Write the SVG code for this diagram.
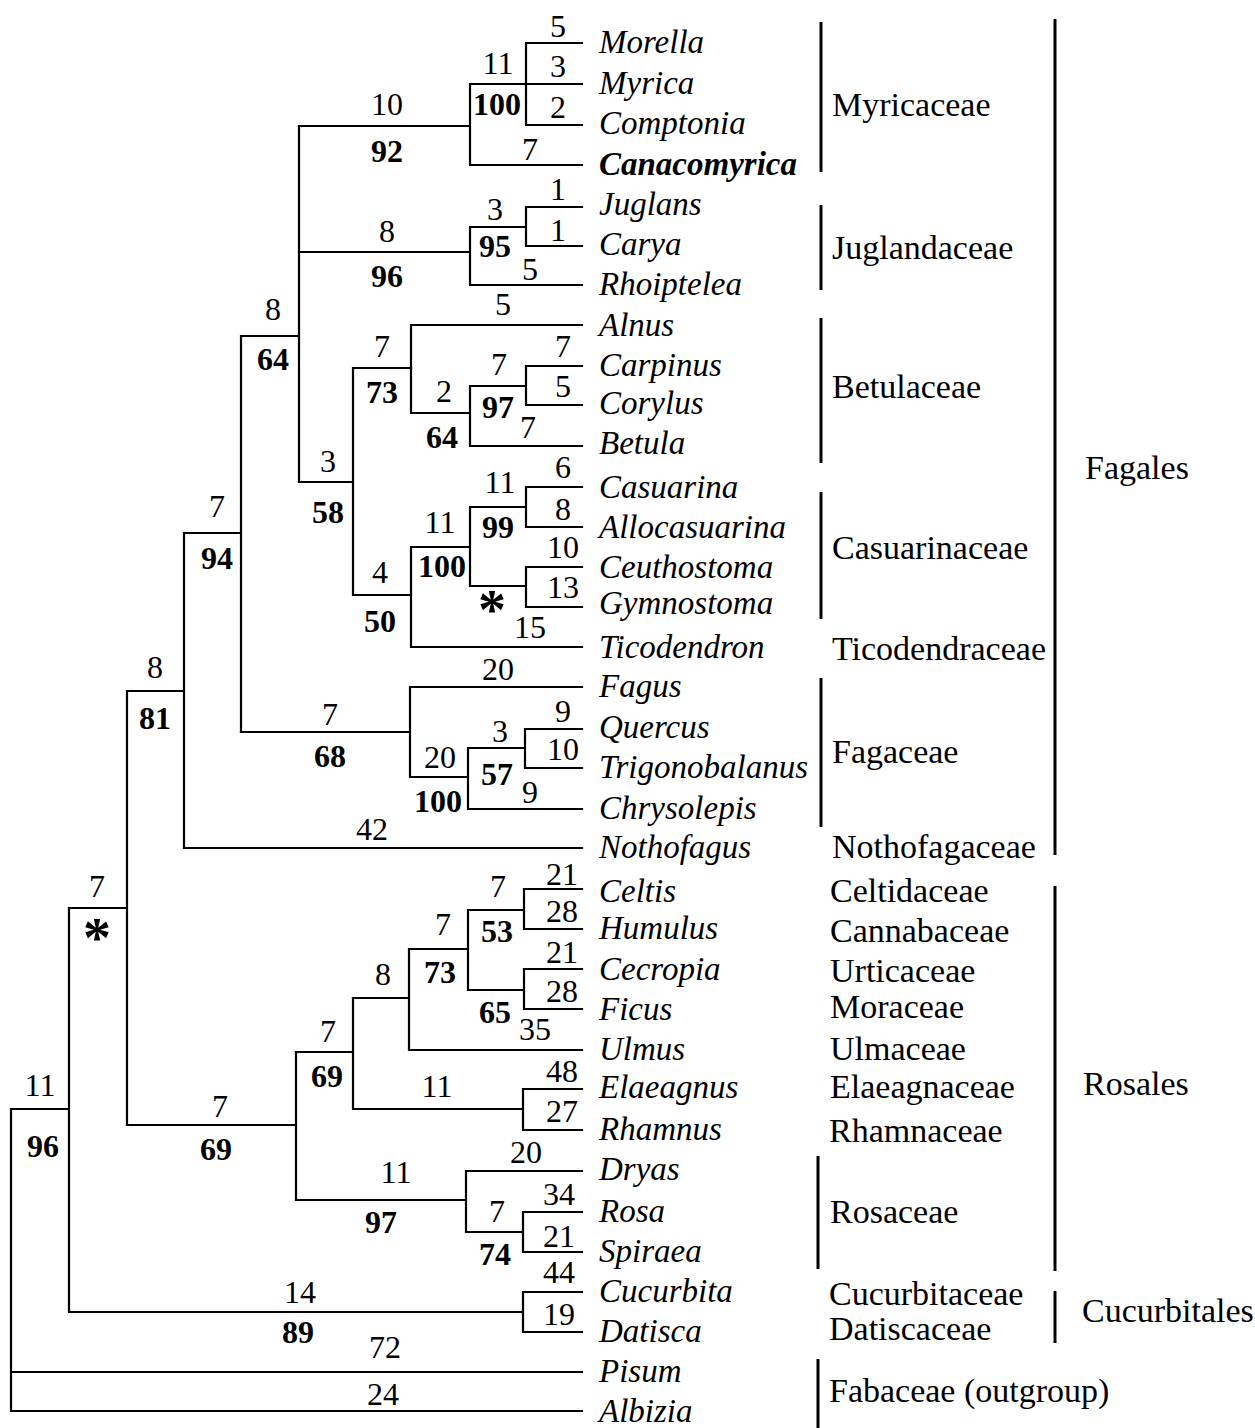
<svg xmlns="http://www.w3.org/2000/svg" width="1255" height="1428" viewBox="0 0 1255 1428">
<style>
text{font-family:"Liberation Serif","Times New Roman",serif;fill:#000}
.tx{font-size:33px;font-style:italic}
.n{font-size:32px;text-anchor:middle}
.b{font-size:32px;text-anchor:middle;font-weight:bold}
.ast{font-size:56px;text-anchor:middle;font-weight:bold}
.fam{font-size:34px}
.bar{stroke:#000;stroke-width:3;fill:none}
.edge{stroke:#000;stroke-width:2.2;fill:none;stroke-linecap:square}
</style>
<rect width="1255" height="1428" fill="#fff"/>
<g id="connectors" class="edge">
<path d="M526,43 H582 M526,84 H582 M526,125 H582 M526,43 V125 M470,84 H526 M470,84 V165 H582 M299,126 H470"/>
<path d="M526,207 H582 M526,246 H582 M526,207 V246 M470,227 H526 M470,227 V285 H582 M299,252 H470"/>
<path d="M299,126 V482 M242,336 H299"/>
<path d="M411,325 H582 M411,325 V413 H470 M470,386 V446 H582 M470,386 H526 M526,366 V405 M526,366 H582 M526,405 H582"/>
<path d="M353,368 H411 M353,368 V595 H411 M299,482 H353"/>
<path d="M526,487 V527 M526,487 H582 M526,527 H582 M470,507 H526 M526,567 V607 M526,567 H582 M526,607 H582 M470,586 H526 M470,507 V586 M411,547 H470 M411,547 V647 H582"/>
<path d="M525,729 V768 M525,729 H582 M525,768 H582 M468,748 H525 M468,748 V809 H582 M410,777 H468 M410,687 V777 M410,687 H582 M241,732 H410"/>
<path d="M241,336 V732 M184,533 H241 M184,533 V848 H582 M127,691 H184 M127,691 V1125 M69,908 H127"/>
<path d="M524,889 V929 M524,889 H582 M524,929 H582 M468,910 H524 M524,969 V1009 M524,969 H582 M524,1009 H582 M468,990 H524 M468,910 V990 M409,949 H468 M409,949 V1050 H582 M353,998 H409"/>
<path d="M523,1089 V1130 M523,1089 H582 M523,1130 H582 M353,1109 H523 M353,998 V1109 M296,1052 H353"/>
<path d="M523,1212 V1252 M523,1212 H582 M523,1252 H582 M466,1232 H523 M466,1171 V1232 M466,1171 H582 M296,1200 H466 M296,1052 V1200 M127,1125 H296"/>
<path d="M523,1292 V1332 M523,1292 H582 M523,1332 H582 M69,1312 H523 M69,908 V1312 M11,1109 H69"/>
<path d="M11,1109 V1411 H582 M11,1372 H582"/>
</g>
<g id="branch-labels">
<text class="n" x="558" y="37">5</text>
<text class="n" x="558" y="77">3</text>
<text class="n" x="558" y="118">2</text>
<text class="n" x="498" y="74">11</text>
<text class="b" x="497" y="115">100</text>
<text class="n" x="530" y="160">7</text>
<text class="n" x="387" y="115">10</text>
<text class="b" x="387" y="162">92</text>
<text class="n" x="558" y="200">1</text>
<text class="n" x="558" y="241">1</text>
<text class="n" x="495" y="220">3</text>
<text class="b" x="495" y="257">95</text>
<text class="n" x="530" y="280">5</text>
<text class="n" x="387" y="242">8</text>
<text class="b" x="387" y="287">96</text>
<text class="n" x="273" y="320">8</text>
<text class="b" x="273" y="370">64</text>
<text class="n" x="503" y="315">5</text>
<text class="n" x="382" y="357">7</text>
<text class="b" x="382" y="403">73</text>
<text class="n" x="563" y="357">7</text>
<text class="n" x="499" y="375">7</text>
<text class="n" x="563" y="397">5</text>
<text class="n" x="444" y="402">2</text>
<text class="b" x="498" y="418">97</text>
<text class="n" x="528" y="438">7</text>
<text class="b" x="442" y="448">64</text>
<text class="n" x="328" y="472">3</text>
<text class="b" x="328" y="523">58</text>
<text class="n" x="563" y="478">6</text>
<text class="n" x="500" y="493">11</text>
<text class="n" x="563" y="520">8</text>
<text class="b" x="498" y="538">99</text>
<text class="n" x="440" y="533">11</text>
<text class="b" x="442" y="577">100</text>
<text class="n" x="563" y="558">10</text>
<text class="n" x="563" y="598">13</text>
<text class="ast" x="492" y="629">*</text>
<text class="n" x="380" y="583">4</text>
<text class="b" x="380" y="632">50</text>
<text class="n" x="530" y="638">15</text>
<text class="n" x="217" y="517">7</text>
<text class="b" x="217" y="569">94</text>
<text class="n" x="498" y="680">20</text>
<text class="n" x="330" y="725">7</text>
<text class="b" x="330" y="767">68</text>
<text class="n" x="563" y="722">9</text>
<text class="n" x="500" y="742">3</text>
<text class="n" x="563" y="760">10</text>
<text class="n" x="440" y="768">20</text>
<text class="b" x="497" y="785">57</text>
<text class="n" x="530" y="803">9</text>
<text class="b" x="438" y="812">100</text>
<text class="n" x="372" y="840">42</text>
<text class="n" x="155" y="678">8</text>
<text class="b" x="155" y="729">81</text>
<text class="n" x="97" y="897">7</text>
<text class="ast" x="97" y="957">*</text>
<text class="n" x="40" y="1096">11</text>
<text class="b" x="43" y="1157">96</text>
<text class="n" x="562" y="885">21</text>
<text class="n" x="562" y="922">28</text>
<text class="n" x="498" y="897">7</text>
<text class="b" x="497" y="942">53</text>
<text class="n" x="443" y="935">7</text>
<text class="b" x="440" y="983">73</text>
<text class="n" x="562" y="963">21</text>
<text class="n" x="562" y="1002">28</text>
<text class="b" x="495" y="1023">65</text>
<text class="n" x="535" y="1040">35</text>
<text class="n" x="383" y="985">8</text>
<text class="n" x="328" y="1042">7</text>
<text class="b" x="327" y="1087">69</text>
<text class="n" x="437" y="1097">11</text>
<text class="n" x="562" y="1082">48</text>
<text class="n" x="562" y="1122">27</text>
<text class="n" x="220" y="1117">7</text>
<text class="b" x="216" y="1160">69</text>
<text class="n" x="396" y="1183">11</text>
<text class="b" x="381" y="1233">97</text>
<text class="n" x="526" y="1163">20</text>
<text class="n" x="559" y="1205">34</text>
<text class="n" x="559" y="1247">21</text>
<text class="n" x="497" y="1222">7</text>
<text class="b" x="495" y="1265">74</text>
<text class="n" x="300" y="1303">14</text>
<text class="b" x="298" y="1343">89</text>
<text class="n" x="559" y="1283">44</text>
<text class="n" x="559" y="1325">19</text>
<text class="n" x="385" y="1358">72</text>
<text class="n" x="383" y="1405">24</text>
</g>
<g id="taxa">
<g id="t-morella"><text class="tx" x="599" y="53">Morella</text></g>
<g id="t-myrica"><text class="tx" x="599" y="94">Myrica</text></g>
<g id="t-comptonia"><text class="tx" x="599" y="134">Comptonia</text></g>
<g id="t-canacomyrica"><text class="tx" x="599" y="175" font-weight="bold">Canacomyrica</text></g>
<g id="t-juglans"><text class="tx" x="599" y="215">Juglans</text></g>
<g id="t-carya"><text class="tx" x="599" y="255">Carya</text></g>
<g id="t-rhoiptelea"><text class="tx" x="599" y="295">Rhoiptelea</text></g>
<g id="t-alnus"><text class="tx" x="599" y="336">Alnus</text></g>
<g id="t-carpinus"><text class="tx" x="599" y="376">Carpinus</text></g>
<g id="t-corylus"><text class="tx" x="599" y="414">Corylus</text></g>
<g id="t-betula"><text class="tx" x="599" y="454">Betula</text></g>
<g id="t-casuarina"><text class="tx" x="599" y="498">Casuarina</text></g>
<g id="t-allocasuarina"><text class="tx" x="599" y="538">Allocasuarina</text></g>
<g id="t-ceuthostoma"><text class="tx" x="599" y="578">Ceuthostoma</text></g>
<g id="t-gymnostoma"><text class="tx" x="599" y="614">Gymnostoma</text></g>
<g id="t-ticodendron"><text class="tx" x="599" y="658">Ticodendron</text></g>
<g id="t-fagus"><text class="tx" x="599" y="697">Fagus</text></g>
<g id="t-quercus"><text class="tx" x="599" y="738">Quercus</text></g>
<g id="t-trigonobalanus"><text class="tx" x="599" y="778">Trigonobalanus</text></g>
<g id="t-chrysolepis"><text class="tx" x="599" y="819">Chrysolepis</text></g>
<g id="t-nothofagus"><text class="tx" x="599" y="858">Nothofagus</text></g>
<g id="t-celtis"><text class="tx" x="599" y="902">Celtis</text></g>
<g id="t-humulus"><text class="tx" x="599" y="939">Humulus</text></g>
<g id="t-cecropia"><text class="tx" x="599" y="980">Cecropia</text></g>
<g id="t-ficus"><text class="tx" x="599" y="1020">Ficus</text></g>
<g id="t-ulmus"><text class="tx" x="599" y="1060">Ulmus</text></g>
<g id="t-elaeagnus"><text class="tx" x="599" y="1098">Elaeagnus</text></g>
<g id="t-rhamnus"><text class="tx" x="599" y="1140">Rhamnus</text></g>
<g id="t-dryas"><text class="tx" x="599" y="1180">Dryas</text></g>
<g id="t-rosa"><text class="tx" x="599" y="1222">Rosa</text></g>
<g id="t-spiraea"><text class="tx" x="599" y="1262">Spiraea</text></g>
<g id="t-cucurbita"><text class="tx" x="599" y="1302">Cucurbita</text></g>
<g id="t-datisca"><text class="tx" x="599" y="1342">Datisca</text></g>
<g id="t-pisum"><text class="tx" x="599" y="1382">Pisum</text></g>
<g id="t-albizia"><text class="tx" x="599" y="1422">Albizia</text></g>
</g>
<g id="families">
<g id="f-myricaceae"><line class="bar" x1="821" y1="22" x2="821" y2="172"/><text class="fam" x="832" y="116">Myricaceae</text></g>
<g id="f-juglandaceae"><line class="bar" x1="821" y1="205" x2="821" y2="290"/><text class="fam" x="832" y="259">Juglandaceae</text></g>
<g id="f-betulaceae"><line class="bar" x1="821" y1="318" x2="821" y2="463"/><text class="fam" x="832" y="398">Betulaceae</text></g>
<g id="f-casuarinaceae"><line class="bar" x1="821" y1="492" x2="821" y2="619"/><text class="fam" x="832" y="559">Casuarinaceae</text></g>
<g id="f-ticodendraceae"><text class="fam" x="832" y="660">Ticodendraceae</text></g>
<g id="f-fagaceae"><line class="bar" x1="821" y1="678" x2="821" y2="827"/><text class="fam" x="832" y="763">Fagaceae</text></g>
<g id="f-nothofagaceae"><text class="fam" x="832" y="858">Nothofagaceae</text></g>
<g id="f-celtidaceae"><text class="fam" x="830" y="902">Celtidaceae</text></g>
<g id="f-cannabaceae"><text class="fam" x="830" y="942">Cannabaceae</text></g>
<g id="f-urticaceae"><text class="fam" x="830" y="982">Urticaceae</text></g>
<g id="f-moraceae"><text class="fam" x="830" y="1018">Moraceae</text></g>
<g id="f-ulmaceae"><text class="fam" x="830" y="1060">Ulmaceae</text></g>
<g id="f-elaeagnaceae"><text class="fam" x="830" y="1098">Elaeagnaceae</text></g>
<g id="f-rhamnaceae"><text class="fam" x="829" y="1142">Rhamnaceae</text></g>
<g id="f-rosaceae"><line class="bar" x1="818" y1="1156" x2="818" y2="1269"/><text class="fam" x="830" y="1223">Rosaceae</text></g>
<g id="f-cucurbitaceae"><text class="fam" x="829" y="1305">Cucurbitaceae</text></g>
<g id="f-datiscaceae"><text class="fam" x="829" y="1340">Datiscaceae</text></g>
<g id="f-fabaceae"><line class="bar" x1="818" y1="1359" x2="818" y2="1428"/><text class="fam" x="829" y="1402">Fabaceae (outgroup)</text></g>
</g>
<g id="orders">
<g id="o-fagales"><line class="bar" x1="1055" y1="19" x2="1055" y2="855"/><text class="fam" x="1085" y="479">Fagales</text></g>
<g id="o-rosales"><line class="bar" x1="1055" y1="886" x2="1055" y2="1271"/><text class="fam" x="1083" y="1095">Rosales</text></g>
<g id="o-cucurbitales"><line class="bar" x1="1055" y1="1291" x2="1055" y2="1343"/><text class="fam" x="1082" y="1322">Cucurbitales</text></g>
</g>
</svg>
